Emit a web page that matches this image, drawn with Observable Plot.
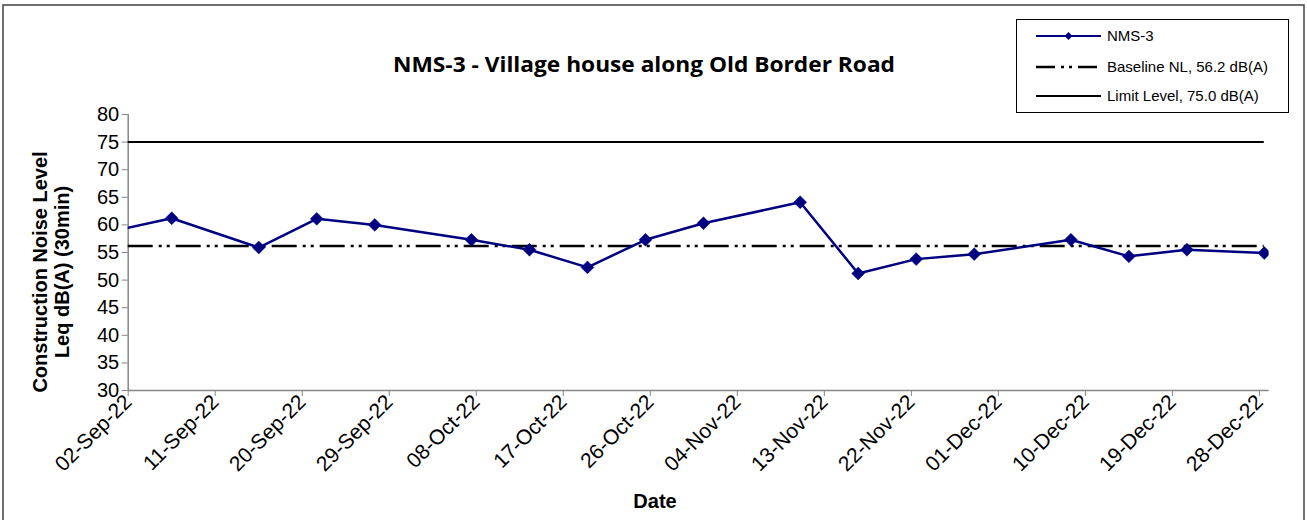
<!DOCTYPE html>
<html><head><meta charset="utf-8">
<script src="https://cdn.jsdelivr.net/npm/d3@7"></script>
<script src="https://cdn.jsdelivr.net/npm/@observablehq/plot@0.6"></script>
<style>body{margin:0;background:#fff} svg{display:block}</style>
</head><body><div id="chart"></div>
<script>
// ---- data ----
const seriesName = "NMS-3";
const measureDates = ["2022-08-31","2022-09-06","2022-09-15","2022-09-21","2022-09-27","2022-10-07","2022-10-13","2022-10-19","2022-10-25","2022-10-31","2022-11-10","2022-11-16","2022-11-22","2022-11-28","2022-12-08","2022-12-14","2022-12-20","2022-12-28"];
const noiseLevels = [58.9,61.2,55.9,61.1,60.0,57.3,55.5,52.3,57.3,60.3,64.1,51.2,53.8,54.7,57.3,54.3,55.5,54.9];
const baselineLevel = 56.2;
const limitLevel = 75.0;
const xTickDates = ["2022-09-02","2022-09-11","2022-09-20","2022-09-29","2022-10-08","2022-10-17","2022-10-26","2022-11-04","2022-11-13","2022-11-22","2022-12-01","2022-12-10","2022-12-19","2022-12-28"];
const yTicks = [30,35,40,45,50,55,60,65,70,75,80];
const xDomain = ["2022-09-02","2022-12-29"];
const titleText = "NMS-3 - Village house along Old Border Road";
const yTitleLines = ["Construction Noise Level","Leq dB(A) (30min)"];
const xTitle = "Date";
const legendLabels = ["NMS-3","Baseline NL, 56.2 dB(A)","Limit Level, 75.0 dB(A)"];

// ---- build ----
const noon = s => new Date(s + "T12:00:00Z");
const midnight = s => new Date(s + "T00:00:00Z");
const points = measureDates.map((d,i) => ({date: noon(d), value: noiseLevels[i]}));
const x0 = midnight(xDomain[0]), x1 = midnight(xDomain[1]);
const lastDate = noon(measureDates[measureDates.length-1]);
const refLines = [
  {name:"limit", y: limitLevel, x1: x0, x2: lastDate},
  {name:"baseline", y: baselineLevel, x1: x0, x2: lastDate}
];
const NAVY = "#000080", GRAY = "#868686";
const DASH = "25,6,3,5,3,6";
const FONT = "'Liberation Sans', Arial, sans-serif";

const plot = Plot.plot({
  width: 1307, height: 520,
  marginLeft: 127.7, marginRight: 38.4, marginTop: 114, marginBottom: 130,
  style: {fontFamily: FONT, fontSize: "20px", color: "black", background: "white", overflow: "visible"},
  x: {type: "utc", domain: [x0, x1]},
  y: {domain: [30, 80]},
  marks: [
    Plot.axisY({ticks: yTicks, tickSize: 6, tickPadding: 3, stroke: GRAY, fontSize: 20, label: null}),
    Plot.axisX({ticks: xTickDates.map(midnight), tickFormat: d3.utcFormat("%d-%b-%y"), tickRotate: -45, tickSize: 6, tickPadding: 2, stroke: GRAY, fontSize: 21, label: null}),
    Plot.ruleX([x0], {stroke: GRAY, strokeWidth: 1.5}),
    Plot.ruleY([30], {stroke: GRAY, strokeWidth: 1.5}),
    Plot.ruleY(refLines.filter(d => d.name === "limit"), {y: "y", x1: "x1", x2: "x2", stroke: "black", strokeWidth: 2}),
    Plot.ruleY(refLines.filter(d => d.name === "baseline"), {y: "y", x1: "x1", x2: "x2", stroke: "black", strokeWidth: 2.5, strokeDasharray: DASH}),
    Plot.line(points, {x: "date", y: "value", stroke: NAVY, strokeWidth: 2.5, clip: true}),
    Plot.dot(points, {x: "date", y: "value", symbol: "diamond2", r: 5.8, fill: NAVY, stroke: NAVY, strokeWidth: 0.5, clip: true})
  ]
});
document.getElementById("chart").appendChild(plot);

const svg = d3.select(plot);
// outer border
svg.append("rect").attr("x", 3).attr("y", 5).attr("width", 1301).attr("height", 530)
  .attr("fill", "none").attr("stroke", "#404040").attr("stroke-width", 1.5);
// title
svg.append("text").attr("x", 644).attr("y", 72).attr("text-anchor", "middle")
  .attr("font-family", "'Open Sans', sans-serif").attr("font-weight", "bold").attr("font-size", 21)
  .attr("textLength", 502).attr("lengthAdjust", "spacingAndGlyphs").text(titleText);
// y title
yTitleLines.forEach((t, i) => {
  svg.append("text").attr("transform", `translate(${46.5 + i * 22},272) rotate(-90)`)
    .attr("text-anchor", "middle").attr("font-family", FONT).attr("font-weight", "bold").attr("font-size", 20).text(t);
});
// x title
svg.append("text").attr("x", 655).attr("y", 508).attr("text-anchor", "middle")
  .attr("font-family", FONT).attr("font-weight", "bold").attr("font-size", 20).text(xTitle);
// legend
const lg = svg.append("g");
lg.append("rect").attr("x", 1016.5).attr("y", 19.5).attr("width", 272).attr("height", 93)
  .attr("fill", "white").attr("stroke", "black").attr("stroke-width", 1);
const rows = [36, 67, 96];
const styles = [
  {stroke: NAVY, w: 2, dash: null},
  {stroke: "black", w: 2.5, dash: "19,6,3,5,3,6"},
  {stroke: "black", w: 2, dash: null}
];
legendLabels.forEach((t, i) => {
  const y = rows[i], s = styles[i];
  const l = lg.append("line").attr("x1", 1036).attr("x2", 1101).attr("y1", y).attr("y2", y)
    .attr("stroke", s.stroke).attr("stroke-width", s.w);
  if (s.dash) l.attr("stroke-dasharray", s.dash);
  if (i === 0) lg.append("path").attr("d", d3.symbol(d3.symbolDiamond2, 40)()).attr("transform", `translate(1068.5,${y})`).attr("fill", NAVY);
  lg.append("text").attr("x", 1107).attr("y", y).attr("dy", "0.35em").attr("text-anchor", "start")
    .attr("font-family", FONT).attr("font-size", 15).text(t);
});
</script></body></html>
